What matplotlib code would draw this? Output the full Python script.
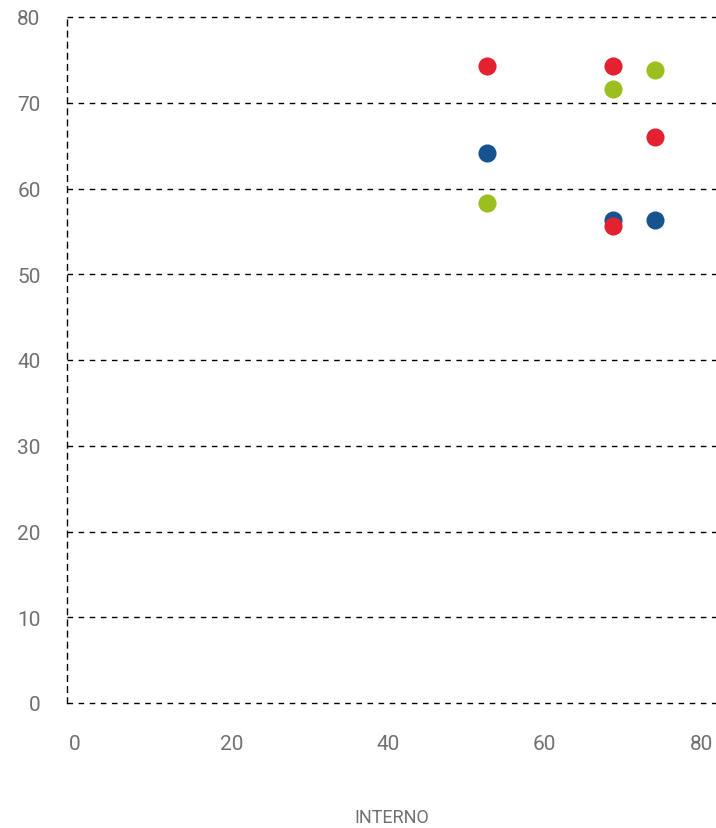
import matplotlib.pyplot as plt

# points (x = INTERNO, y = value)
red_x = [52.6, 68.7, 74.1, 68.7]
red_y = [74.3, 74.3, 66.0, 55.6]
green_x = [52.6, 68.7, 74.1]
green_y = [58.3, 71.6, 73.8]
blue_x = [52.6, 68.7, 74.1]
blue_y = [64.1, 56.3, 56.3]

x_ticks = [0, 20, 40, 60, 80]
y_ticks = [0, 10, 20, 30, 40, 50, 60, 70, 80]

plt.rcParams['font.family'] = ['Roboto', 'DejaVu Sans']

fig = plt.figure(figsize=(7.16, 8.29), dpi=100)
ax = fig.add_axes([67 / 716, 125 / 829, 649 / 716, 686 / 829])

ax.scatter(blue_x, blue_y, s=170, color='#17548f', zorder=3, linewidths=0)
ax.scatter(green_x, green_y, s=170, color='#9bbf1e', zorder=3, linewidths=0)
ax.scatter(red_x, red_y, s=170, color='#e32131', zorder=3, linewidths=0)

ax.set_xlim(-1.0, 81.9)
ax.set_ylim(0, 80)
ax.set_xticks(x_ticks)
ax.set_yticks(y_ticks)

for y in y_ticks:
    ax.axhline(y, color='black', linestyle=(0, (4, 4)), linewidth=1, zorder=1, clip_on=False)

for side in ['top', 'right', 'bottom']:
    ax.spines[side].set_visible(False)
ax.spines['left'].set_linestyle((0, (4, 4)))
ax.spines['left'].set_linewidth(1)

ax.tick_params(length=0, labelsize=15, labelcolor='#707070')
ax.tick_params(axis='y', pad=19)
ax.tick_params(axis='x', pad=22)

ax.set_xlabel('INTERNO', fontsize=13, color='#707070', labelpad=40)

fig.savefig('out.png', dpi=100)
